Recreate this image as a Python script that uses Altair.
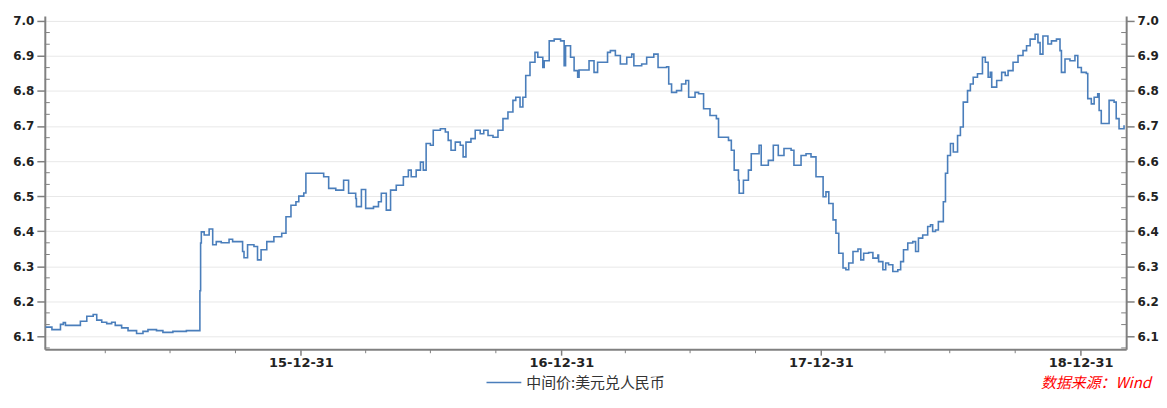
import altair as alt
import pandas as pd

SERIES = "中间价:美元兑人民币"
SOURCE = "数据来源：Wind"
LINE_COLOR = "#4A7EBB"
AXIS_GREY = "#808080"

dates_2015 = ["2015-01-06", "2015-01-15", "2015-01-27", "2015-01-31", "2015-02-03", "2015-02-17",
              "2015-02-24", "2015-03-05", "2015-03-14", "2015-03-19", "2015-03-26", "2015-04-02",
              "2015-04-09", "2015-04-14", "2015-04-23", "2015-05-02", "2015-05-14", "2015-05-23",
              "2015-05-30", "2015-06-11", "2015-06-20", "2015-07-04", "2015-07-23", "2015-08-10",
              "2015-08-11", "2015-08-12", "2015-08-13", "2015-08-17", "2015-08-24", "2015-08-29",
              "2015-09-03", "2015-09-10", "2015-09-21", "2015-09-26", "2015-10-10", "2015-10-12",
              "2015-10-17", "2015-10-26", "2015-10-31", "2015-11-05", "2015-11-13", "2015-11-23",
              "2015-12-04", "2015-12-10", "2015-12-17", "2015-12-24", "2015-12-28"]
values_2015 = [6.126, 6.119, 6.134, 6.139, 6.131, 6.131,
               6.143, 6.157, 6.162, 6.146, 6.140, 6.136,
               6.140, 6.131, 6.124, 6.116, 6.108, 6.114,
               6.119, 6.116, 6.111, 6.114, 6.116, 6.116,
               6.230, 6.366, 6.398, 6.389, 6.406, 6.361,
               6.370, 6.367, 6.377, 6.370, 6.342, 6.324,
               6.361, 6.356, 6.318, 6.347, 6.370, 6.384,
               6.394, 6.441, 6.474, 6.484, 6.500]

dates_2016 = ["2016-01-04", "2016-01-07", "2016-01-15", "2016-02-01", "2016-02-08", "2016-02-18",
              "2016-02-29", "2016-03-07", "2016-03-17", "2016-03-18", "2016-03-25", "2016-03-31",
              "2016-04-11", "2016-04-18", "2016-04-22", "2016-04-29", "2016-05-05", "2016-05-13",
              "2016-05-23", "2016-05-30", "2016-06-03", "2016-06-10", "2016-06-16", "2016-06-20",
              "2016-06-24", "2016-06-30", "2016-07-04", "2016-07-14", "2016-07-21", "2016-07-25",
              "2016-07-29", "2016-08-04", "2016-08-11", "2016-08-15", "2016-08-19", "2016-08-26",
              "2016-09-01", "2016-09-08", "2016-09-13", "2016-09-19", "2016-09-26", "2016-10-03",
              "2016-10-10", "2016-10-17", "2016-10-24", "2016-10-28", "2016-11-03", "2016-11-07",
              "2016-11-11", "2016-11-17", "2016-11-24", "2016-11-28", "2016-12-05", "2016-12-07",
              "2016-12-14", "2016-12-21", "2016-12-30"]
values_2016 = [6.509, 6.565, 6.565, 6.555, 6.522, 6.517,
               6.545, 6.508, 6.493, 6.470, 6.519, 6.465,
               6.470, 6.484, 6.508, 6.460, 6.517, 6.531,
               6.555, 6.574, 6.555, 6.574, 6.597, 6.574,
               6.650, 6.645, 6.688, 6.692, 6.683, 6.659,
               6.631, 6.654, 6.645, 6.612, 6.654, 6.664,
               6.688, 6.678, 6.688, 6.673, 6.668, 6.688,
               6.721, 6.740, 6.773, 6.782, 6.754, 6.782,
               6.844, 6.882, 6.910, 6.896, 6.867, 6.886,
               6.943, 6.948, 6.943]

dates_2017 = ["2017-01-04", "2017-01-06", "2017-01-13", "2017-01-18", "2017-01-23", "2017-01-25",
              "2017-02-03", "2017-02-08", "2017-02-15", "2017-02-20", "2017-03-01", "2017-03-06",
              "2017-03-10", "2017-03-17", "2017-03-24", "2017-04-02", "2017-04-09", "2017-04-12",
              "2017-04-23", "2017-04-30", "2017-05-10", "2017-05-16", "2017-05-28", "2017-05-31",
              "2017-06-04", "2017-06-11", "2017-06-18", "2017-06-24", "2017-06-28", "2017-07-07",
              "2017-07-12", "2017-07-19", "2017-07-28", "2017-08-06", "2017-08-09", "2017-08-16",
              "2017-08-23", "2017-08-27", "2017-08-31", "2017-09-06", "2017-09-07", "2017-09-13",
              "2017-09-20", "2017-09-24", "2017-10-05", "2017-10-08", "2017-10-18", "2017-10-25",
              "2017-11-01", "2017-11-09", "2017-11-19", "2017-11-23", "2017-12-03", "2017-12-10",
              "2017-12-17", "2017-12-24"]
values_2017 = [6.872, 6.929, 6.896, 6.858, 6.839, 6.860,
               6.860, 6.886, 6.853, 6.882, 6.882, 6.910,
               6.915, 6.901, 6.877, 6.896, 6.905, 6.872,
               6.877, 6.896, 6.905, 6.867, 6.869, 6.820,
               6.796, 6.801, 6.820, 6.830, 6.782, 6.796,
               6.792, 6.749, 6.730, 6.721, 6.668, 6.668,
               6.659, 6.631, 6.574, 6.545, 6.508, 6.545,
               6.574, 6.621, 6.645, 6.588, 6.602, 6.645,
               6.616, 6.636, 6.631, 6.588, 6.616, 6.621,
               6.612, 6.555]

dates_2018 = ["2018-01-03", "2018-01-07", "2018-01-11", "2018-01-17", "2018-01-21", "2018-01-25",
              "2018-01-31", "2018-02-04", "2018-02-08", "2018-02-14", "2018-02-21", "2018-02-25",
              "2018-03-01", "2018-03-08", "2018-03-14", "2018-03-21", "2018-03-22", "2018-03-28",
              "2018-04-01", "2018-04-05", "2018-04-11", "2018-04-18", "2018-04-22", "2018-04-26",
              "2018-05-02", "2018-05-09", "2018-05-13", "2018-05-17", "2018-05-23", "2018-05-30",
              "2018-06-03", "2018-06-06", "2018-06-10", "2018-06-14", "2018-06-18", "2018-06-21",
              "2018-06-24", "2018-06-27", "2018-07-01", "2018-07-05", "2018-07-11", "2018-07-15",
              "2018-07-19", "2018-07-25", "2018-07-29", "2018-08-02", "2018-08-08", "2018-08-15",
              "2018-08-19", "2018-08-23", "2018-08-26", "2018-08-28", "2018-09-04", "2018-09-11",
              "2018-09-16", "2018-09-20", "2018-09-27", "2018-10-04", "2018-10-11", "2018-10-16",
              "2018-10-21", "2018-10-28", "2018-11-01", "2018-11-04", "2018-11-08", "2018-11-15",
              "2018-11-20", "2018-11-27", "2018-12-02", "2018-12-04", "2018-12-09", "2018-12-16",
              "2018-12-23", "2018-12-27"]
values_2018 = [6.498, 6.512, 6.479, 6.432, 6.394, 6.337,
               6.295, 6.290, 6.309, 6.342, 6.349, 6.318,
               6.337, 6.339, 6.323, 6.332, 6.313, 6.290,
               6.309, 6.304, 6.285, 6.290, 6.313, 6.347,
               6.366, 6.370, 6.342, 6.380, 6.389, 6.413,
               6.418, 6.399, 6.403, 6.427, 6.427, 6.484,
               6.565, 6.616, 6.650, 6.626, 6.673, 6.697,
               6.768, 6.801, 6.820, 6.839, 6.849, 6.896,
               6.882, 6.839, 6.853, 6.811, 6.830, 6.853,
               6.844, 6.858, 6.882, 6.901, 6.915, 6.929,
               6.948, 6.962, 6.938, 6.905, 6.957, 6.934,
               6.943, 6.948, 6.915, 6.853, 6.891, 6.886,
               6.901, 6.867]

dates_2019 = ["2019-01-01", "2019-01-08", "2019-01-10", "2019-01-15", "2019-01-19", "2019-01-24",
              "2019-01-26", "2019-01-29", "2019-02-02", "2019-02-09", "2019-02-16", "2019-02-19",
              "2019-02-23", "2019-03-02"]
values_2019 = [6.853, 6.850, 6.778, 6.763, 6.782, 6.792,
               6.744, 6.707, 6.707, 6.773, 6.768, 6.721,
               6.692, 6.702]

# axis ticks
y_major = [6.1, 6.2, 6.3, 6.4, 6.5, 6.6, 6.7, 6.8, 6.9, 7.0]
y_minor = [6.0667, 6.1333, 6.1667, 6.2333, 6.2667, 6.3333, 6.3667, 6.4333, 6.4667,
           6.5333, 6.5667, 6.6333, 6.6667, 6.7333, 6.7667, 6.8333, 6.8667, 6.9333, 6.9667]
x_major = ["2015-12-31", "2016-12-31", "2017-12-31", "2018-12-31"]
x_minor = ["2015-03-31", "2015-06-30", "2015-09-30", "2016-03-31", "2016-06-30", "2016-09-30",
           "2017-03-31", "2017-06-30", "2017-09-30", "2018-03-31", "2018-06-30", "2018-09-30"]
x_domain = ["2015-01-05", "2019-03-05"]
y_domain = [6.063, 7.014]

dates = dates_2015 + dates_2016 + dates_2017 + dates_2018 + dates_2019
values = values_2015 + values_2016 + values_2017 + values_2018 + values_2019
assert len(dates) == len(values)

df = pd.DataFrame({"date": pd.to_datetime(dates), "value": values, "series": SERIES})
ymin_df = pd.DataFrame({"v": y_minor})
xmin_df = pd.DataFrame({"d": pd.to_datetime(x_minor)})
src_df = pd.DataFrame({"t": [SOURCE]})


def to_dt(s):
    return alt.DateTime(year=int(s[:4]), month=int(s[5:7]), date=int(s[8:10]))


W, H = 1087, 335
x_scale = alt.Scale(domain=[to_dt(x_domain[0]), to_dt(x_domain[1])], nice=False)
y_scale = alt.Scale(domain=y_domain, nice=False, zero=False)

LABEL_FONT = "DejaVu Sans"

x_axis = alt.Axis(values=[to_dt(s) for s in x_major], format="%y-%m-%d", title=None, grid=False,
                  tickSize=6, tickColor=AXIS_GREY, tickWidth=1.5, domainColor=AXIS_GREY,
                  domainWidth=2, labelFont=LABEL_FONT, labelFontSize=13, labelFontWeight="bold",
                  labelColor="#222222", labelPadding=1, labelFlush=False, labelOverlap=False)

y_common = dict(values=y_major, format=".1f", title=None, tickSize=8, tickColor=AXIS_GREY,
                tickWidth=1.5, domainColor=AXIS_GREY, domainWidth=2, labelFont=LABEL_FONT,
                labelFontSize=12, labelFontWeight="bold", labelColor="#222222", labelPadding=3,
                labelFlush=False, labelOverlap=False)
y_left = alt.Axis(orient="left", grid=True, gridColor="#e8e8e8", gridWidth=1, **y_common)
y_right = alt.Axis(orient="right", grid=False, **y_common)

legend = alt.Legend(title=None, orient="none", legendX=443, legendY=350, symbolType="stroke",
                    symbolSize=1225, symbolStrokeWidth=1.5, labelFont="Noto Sans CJK SC",
                    labelFontSize=15, labelColor="#333333", labelOffset=4, padding=0)

line = alt.Chart(df).mark_line(interpolate="step-after", strokeWidth=1.6).encode(
    x=alt.X("date:T", scale=x_scale, axis=x_axis),
    y=alt.Y("value:Q", scale=y_scale, axis=y_left),
    color=alt.Color("series:N", scale=alt.Scale(range=[LINE_COLOR]), legend=legend),
)

left_minor = alt.Chart(ymin_df).mark_rule(color=AXIS_GREY, strokeWidth=1).encode(
    y=alt.Y("v:Q", scale=y_scale, axis=y_right),
    x=alt.value(0), x2=alt.value(5),
)

right_minor = alt.Chart(ymin_df).mark_rule(color=AXIS_GREY, strokeWidth=1).encode(
    y=alt.Y("v:Q", scale=y_scale, axis=None),
    x=alt.value(W - 5), x2=alt.value(W),
)

x_minor_ticks = alt.Chart(xmin_df).mark_rule(color=AXIS_GREY, strokeWidth=1).encode(
    x=alt.X("d:T", scale=x_scale, axis=x_axis),
    y=alt.value(H), y2=alt.value(H + 4),
)

source = alt.Chart(src_df).mark_text(align="right", baseline="middle", color="#FF0000",
                                     font="Noto Sans CJK SC", fontSize=15,
                                     fontStyle="italic").encode(
    text="t:N", x=alt.value(1112), y=alt.value(369),
)

chart = alt.layer(line, left_minor, right_minor, x_minor_ticks, source).resolve_scale(
    y="independent"
).properties(
    width=W, height=H,
    autosize=alt.AutoSizeParams(type="none"),
    padding={"left": 37, "top": 7, "right": 33, "bottom": 43},
).configure_view(strokeWidth=0)

chart.save("out.html", embed_options={"renderer": "svg", "actions": False})
